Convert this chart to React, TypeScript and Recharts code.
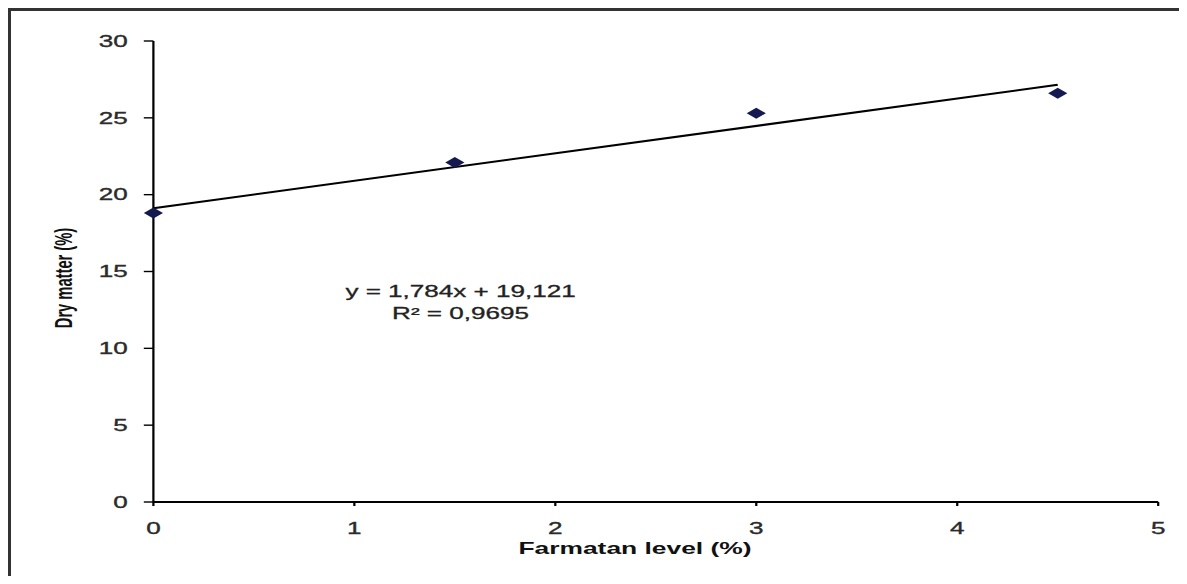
import { ScatterChart, Scatter, XAxis, YAxis } from 'recharts';

// Farmatan level (%) vs dry matter (%)
const levels = [0, 1.5, 3, 4.5];
const dryMatter = [18.8, 22.1, 25.3, 26.6];

// linear trend y = 1,784x + 19,121 drawn over the data range
const trendX = [0, 4.5];
const trendY = [19.12, 27.15];

const xTicks = [0, 1, 2, 3, 4, 5];
const yTicks = [0, 5, 10, 15, 20, 25, 30];

const equation = 'y = 1,784x + 19,121';
const rSquared = 'R² = 0,9695';

const points = levels.map((x, i) => ({ x, y: dryMatter[i] }));
const trend = trendX.map((x, i) => ({ x, y: trendY[i] }));

// the source picture is stretched sideways, so the whole chart is too
const SX = 1.6;
const FONT = '"Liberation Sans", Arial, sans-serif';

const tickStyle = {
  fill: '#2b2b2b',
  stroke: '#2b2b2b',
  strokeWidth: 0.35,
  fontSize: 16.3,
  fontFamily: FONT,
};

const Diamond = (props: any) => {
  const { cx, cy } = props;
  if (cx == null || cy == null) return <g />;
  return (
    <polygon
      points={`${cx},${cy - 5.5} ${cx + 6},${cy} ${cx},${cy + 5.5} ${cx - 6},${cy}`}
      fill="#141a50"
    />
  );
};

const YTitle = () => (
  <text
    x={38}
    y={267}
    transform="rotate(-90, 38, 267)"
    textAnchor="middle"
    fontFamily={FONT}
    fontWeight="bold"
    fontSize={14.7}
    fill="#111"
  >
    Dry matter (%)
  </text>
);

export default function App() {
  return (
    <div
      style={{
        width: 1179,
        height: 568,
        borderTop: '3px solid #333',
        borderLeft: '3px solid #333',
        boxSizing: 'border-box',
        background: '#fff',
      }}
    >
      <style>{'html{overflow:hidden}'}</style>
      <div style={{ width: 735, height: 573, transform: `scaleX(${SX})`, transformOrigin: '0 0' }}>
        <ScatterChart
          width={735}
          height={573}
          margin={{ top: 30, right: 18, bottom: 28, left: 29 }}
        >
          <XAxis
            type="number"
            dataKey="x"
            domain={[0, 5]}
            ticks={xTicks}
            height={54}
            axisLine={{ stroke: '#000', strokeWidth: 2 }}
            tickLine={{ stroke: '#000', strokeWidth: 1.4 }}
            tickSize={4}
            tickMargin={16}
            tick={tickStyle}
            label={{
              value: 'Farmatan level (%)',
              position: 'insideBottom',
              offset: 2,
              dx: -13,
              fill: '#111',
              fontSize: 16.5,
              fontWeight: 'bold',
              fontFamily: FONT,
            }}
          />
          <YAxis
            type="number"
            dataKey="y"
            domain={[0, 30]}
            ticks={yTicks}
            width={60}
            axisLine={{ stroke: '#000', strokeWidth: 1.4 }}
            tickLine={{ stroke: '#000', strokeWidth: 1.4 }}
            tickSize={6}
            tickMargin={10}
            tick={tickStyle}
            label={{ content: () => <YTitle /> }}
          />
          <Scatter
            data={trend}
            line={{ stroke: '#000', strokeWidth: 2 }}
            shape={() => <g />}
            isAnimationActive={false}
          />
          <Scatter data={points} shape={Diamond} isAnimationActive={false} />
          <text
            x={281}
            y={286}
            textAnchor="middle"
            fontFamily={FONT}
            fontSize={16.3}
            fill="#222"
            stroke="#222"
            strokeWidth={0.3}
          >
            {equation}
          </text>
          <text
            x={281}
            y={308}
            textAnchor="middle"
            fontFamily={FONT}
            fontSize={16.3}
            fill="#222"
            stroke="#222"
            strokeWidth={0.3}
          >
            {rSquared}
          </text>
        </ScatterChart>
      </div>
    </div>
  );
}
